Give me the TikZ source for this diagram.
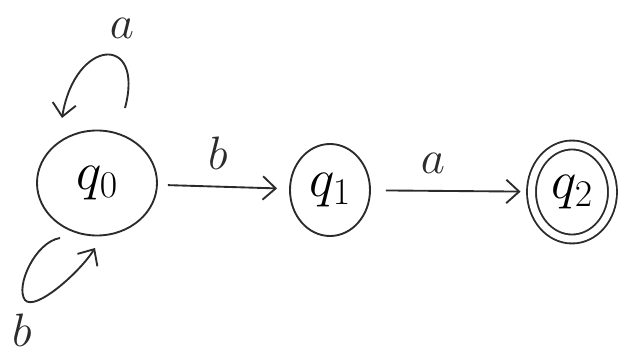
\RequirePackage{fix-cm}
\documentclass[tikz,border=0pt]{standalone}
\usepackage{amsmath}
\usepackage{xcolor}
\usepackage{tikz}
\usetikzlibrary{arrows.meta, shapes.geometric, positioning}
\definecolor{C_PEN}{HTML}{2B2B2B}
\tikzset{
  %% -- automaton state --
  FA/state/.style={
    draw=C_PEN, ellipse, line width=1.6pt, inner sep=0pt,
    font=\fontsize{46}{48}\selectfont
  },
  %% -- accepting state (double ring) --
  FA/final/.style={FA/state, double=white, double distance=6pt},
  %% -- transition arrow --
  FA/arr/.style={-{Straight Barb[length=11pt, width=20pt, line width=1.6pt]},
    line width=1.6pt, color=C_PEN},
  %% -- transition label --
  FA/lbl/.style={font=\fontsize{40}{42}\selectfont, color=C_PEN},
}
\begin{document}
\begin{tikzpicture}[x=0.03cm, y=0.03cm]

\useasboundingbox (0,0) rectangle (632,357);

%% States
\node[FA/state, minimum width=3.6cm, minimum height=3.15cm] (q0) at (97,174) {$q_0$};
\node[FA/state, minimum width=2.4cm, minimum height=2.76cm] (q1) at (330,167) {$q_1$};
\node[FA/final, minimum width=2.43cm, minimum height=2.82cm] (q2) at (572,165) {$q_2$};

%% Loop end points round q0
\coordinate (aS) at ([shift={(28,75)}]q0.center);
\coordinate (aE) at ([shift={(-35,65)}]q0.center);
\coordinate (bS) at ([shift={(-37,-55)}]q0.center);
\coordinate (bE) at ([shift={(-2,-65)}]q0.center);

%% q0 --a--> q0 (top loop)
\draw[FA/arr] (aS) .. controls ++(20,75) and ++(13,80) .. (aE);
\node[FA/lbl] (la) at (122,329) {$a$};

%% q0 --b--> q0 (bottom loop)
\draw[FA/arr] (bS) .. controls ++(-25,-4) and ++(-10,13) .. (25,57)
  .. controls ++(10,-12) and ++(-15,-24) .. (bE);
\node[FA/lbl] (lb) at (22,27) {$b$};

%% q0 --b--> q1
\draw[FA/arr, shorten <=0.3cm, shorten >=0.36cm] (q0) -- (q1);
\node[FA/lbl] (l01) at (218,204) {$b$};

%% q1 --a--> q2
\draw[FA/arr, shorten <=0.45cm, shorten >=0.3cm] (q1) -- (q2);
\node[FA/lbl] (l12) at (433,194) {$a$};

\end{tikzpicture}
\end{document}
